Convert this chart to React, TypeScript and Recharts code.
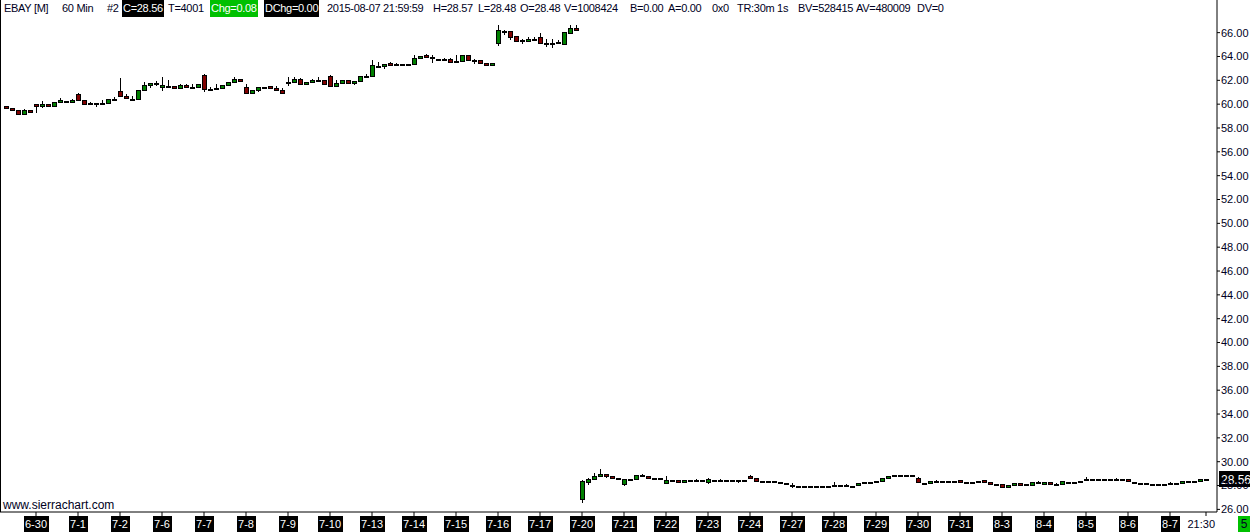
import { ComposedChart, Bar, XAxis, YAxis, ReferenceLine } from 'recharts';

// EBAY 60 min bars, sessions 15:30 .. 21:30 (7 bars). 6-29 only shows its last 5 bars.
const days = [
    '6-30', '7-1', '7-2', '7-6', '7-7', '7-8', '7-9', '7-10', '7-13', '7-14',
    '7-15', '7-16', '7-17', '7-20', '7-21', '7-22', '7-23', '7-24', '7-27', '7-28',
    '7-29', '7-30', '7-31', '8-3', '8-4', '8-5', '8-6', '8-7',
];
const partialFirstDay = 5;
const barsPerDay = 7;
const sessionEndLabel = '21:30';

type Ohlc = [number, number, number, number] | number; // a bare number = flat bar

// [open, high, low, close], 6-29 .. 7-17 (before the PayPal spin-off)
const beforeSpinOff: Ohlc[] = [
    [59.83, 59.83, 59.66, 59.66], [59.66, 59.66, 59.49, 59.49], [59.49, 59.49, 59.16, 59.16],
    [59.16, 59.57, 59.16, 59.49], [59.49, 59.49, 59.33, 59.33],
    // 6-30
    [60.0, 60.0, 59.37, 59.83], [59.83, 60.25, 59.74, 60.0], [60.0, 60.0, 59.83, 59.83],
    [59.83, 60.16, 59.83, 60.16], [60.16, 60.5, 60.16, 60.33], [60.27, 60.27, 60.16, 60.27],
    [60.16, 60.41, 60.16, 60.33],
    // 7-1
    [60.83, 60.92, 60.33, 60.33], [60.33, 60.33, 60.0, 60.0], [60.08, 60.2, 60.0, 60.08],
    [60.08, 60.08, 59.83, 60.08], [60.08, 60.33, 60.08, 60.08], [60.08, 60.41, 60.08, 60.41],
    [60.44, 60.58, 60.4, 60.44],
    // 7-2
    [61.08, 62.17, 60.66, 60.66], [60.66, 60.83, 60.5, 60.5], [60.47, 60.66, 60.44, 60.47],
    [60.41, 61.17, 60.41, 61.17], [61.17, 61.84, 61.17, 61.59], [61.59, 61.76, 61.42, 61.76],
    [61.76, 61.92, 61.59, 61.76],
    // 7-6
    [61.42, 62.26, 61.17, 61.59], [61.55, 62.0, 61.55, 61.55], [61.5, 61.5, 61.34, 61.34],
    [61.34, 61.67, 61.34, 61.59], [61.59, 61.67, 61.42, 61.42], [61.46, 61.67, 61.46, 61.46],
    [61.42, 61.67, 61.42, 61.67],
    // 7-7
    [62.43, 62.51, 61.08, 61.25], [61.3, 61.42, 61.3, 61.3], [61.34, 61.67, 61.34, 61.34],
    [61.34, 61.59, 61.34, 61.59], [61.59, 61.84, 61.59, 61.84], [61.84, 62.26, 61.84, 62.09],
    [62.09, 62.09, 61.92, 61.92],
    // 7-8
    [61.42, 61.67, 60.92, 60.92], [60.92, 61.17, 60.92, 61.17], [61.17, 61.42, 61.08, 61.42],
    [61.46, 61.46, 61.34, 61.46], [61.5, 61.5, 61.34, 61.34], [61.34, 61.5, 61.17, 61.17],
    [61.17, 61.34, 60.92, 60.92],
    // 7-9
    [61.84, 62.26, 61.59, 61.84], [61.84, 62.26, 61.84, 62.09], [62.09, 62.17, 61.67, 61.67],
    [61.67, 61.84, 61.67, 61.84], [61.84, 62.09, 61.84, 62.0], [62.0, 62.26, 62.0, 62.0],
    [62.0, 62.0, 61.67, 61.67],
    // 7-10
    [62.34, 62.43, 61.5, 61.5], [61.5, 62.0, 61.5, 61.76], [61.76, 62.0, 61.76, 62.0],
    [62.0, 62.0, 61.76, 61.76], [61.76, 61.92, 61.67, 61.92], [61.92, 62.34, 61.92, 62.34],
    [62.36, 62.51, 62.3, 62.36],
    // 7-13
    [62.34, 63.71, 62.34, 63.26], [63.23, 63.52, 63.1, 63.23], [63.21, 63.37, 63.0, 63.37],
    [63.43, 63.54, 63.26, 63.26], [63.35, 63.46, 63.35, 63.35], [63.33, 63.4, 63.33, 63.33],
    [63.37, 63.4, 63.37, 63.37],
    // 7-14
    [63.35, 64.13, 63.35, 63.85], [63.85, 64.05, 63.85, 64.05], [64.13, 64.21, 63.94, 63.94],
    [63.96, 64.13, 63.52, 63.96], 63.81, [63.79, 63.88, 63.79, 63.79],
    [63.77, 63.85, 63.52, 63.52],
    // 7-15
    [63.65, 64.1, 63.65, 63.65], [63.6, 64.13, 63.6, 64.13], [64.13, 64.13, 63.69, 63.69],
    [63.69, 63.79, 63.48, 63.69], [63.69, 63.69, 63.43, 63.43], [63.43, 63.43, 63.26, 63.26],
    [63.26, 63.43, 63.26, 63.43],
    // 7-16
    [65.16, 66.65, 64.97, 66.23], [66.15, 66.23, 65.89, 66.15], [66.14, 66.14, 65.45, 65.66],
    [65.72, 65.72, 65.33, 65.33], [65.35, 65.47, 65.16, 65.35], [65.28, 65.64, 65.28, 65.47],
    [65.5, 65.64, 65.5, 65.5],
    // 7-17
    [65.64, 65.97, 65.16, 65.16], [65.16, 65.47, 64.91, 65.16], [65.16, 65.47, 64.83, 65.16],
    [65.2, 65.39, 65.2, 65.2], [65.08, 66.06, 65.08, 66.06], [66.0, 66.65, 66.0, 66.39],
    [66.39, 66.65, 66.2, 66.2],
];

// 7-20 .. 8-7 (after the spin-off)
const afterSpinOff: Ohlc[] = [
    // 7-20
    [26.86, 28.48, 26.66, 28.39], [28.29, 28.64, 28.12, 28.56], [28.53, 29.06, 28.53, 28.81],
    [28.79, 29.4, 28.79, 28.98], [28.98, 28.98, 28.7, 28.79], [28.81, 28.81, 28.62, 28.62],
    28.6,
    // 7-21
    [28.12, 28.53, 28.03, 28.53], 28.56, [28.53, 28.89, 28.53, 28.89],
    [28.85, 28.98, 28.85, 28.85], [28.81, 28.81, 28.62, 28.62], 28.64, 28.64,
    // 7-22
    [28.22, 28.81, 28.22, 28.48], [28.48, 28.5, 28.48, 28.48], [28.48, 28.48, 28.29, 28.29],
    [28.29, 28.48, 28.29, 28.48], 28.45, [28.45, 28.53, 28.45, 28.45], 28.45,
    // 7-23
    [28.29, 28.62, 28.2, 28.56], 28.5, [28.48, 28.56, 28.48, 28.48], 28.45, 28.45,
    [28.45, 28.45, 28.29, 28.45], 28.45,
    // 7-24
    [28.84, 28.92, 28.62, 28.62], [28.62, 28.62, 28.37, 28.37], 28.42, 28.39, 28.37, 28.31, 28.25,
    // 7-27
    [28.03, 28.2, 27.86, 28.03], 27.92, 27.97, 27.97, 28.0, 28.0, 28.0,
    // 7-28
    [28.03, 28.29, 28.03, 28.03], 28.03, [28.06, 28.14, 28.06, 28.06], 28.0,
    [28.03, 28.22, 28.03, 28.22], 28.28, 28.33,
    // 7-29
    28.37, [28.42, 28.62, 28.42, 28.62], [28.62, 28.81, 28.62, 28.81], 28.87, 28.87, 28.87, 28.87,
    // 7-30
    [28.62, 28.7, 28.29, 28.29], 28.25, [28.22, 28.39, 28.22, 28.39],
    [28.37, 28.45, 28.37, 28.37], 28.42, 28.42, 28.39,
    // 7-31
    [28.45, 28.45, 28.29, 28.29], 28.29, 28.31, 28.42, [28.45, 28.45, 28.29, 28.29],
    [28.29, 28.29, 28.12, 28.12], 28.12,
    // 8-3
    [28.12, 28.12, 27.86, 27.86], [27.86, 28.06, 27.86, 28.06], [28.06, 28.22, 28.06, 28.22],
    [28.22, 28.22, 28.06, 28.06], 28.12, [28.06, 28.29, 28.06, 28.29],
    [28.29, 28.37, 28.29, 28.29],
    // 8-4
    [28.12, 28.29, 28.12, 28.29], [28.29, 28.29, 28.12, 28.12], [28.12, 28.2, 28.12, 28.12],
    [28.12, 28.37, 28.12, 28.37], 28.33, 28.33, 28.39,
    // 8-5
    [28.53, 28.7, 28.53, 28.53], 28.53, 28.53, 28.56, 28.56, [28.59, 28.67, 28.59, 28.59], 28.53,
    // 8-6
    [28.53, 28.53, 28.37, 28.37], 28.33, 28.2, 28.2, 28.17, 28.17, 28.17,
    // 8-7
    [28.2, 28.28, 28.2, 28.2], 28.2, [28.2, 28.37, 28.2, 28.37], 28.37, 28.37,
    [28.37, 28.53, 28.37, 28.53], [28.48, 28.57, 28.48, 28.56],
];

const yTicks = [26, 28, 30, 32, 34, 36, 38, 40, 42, 44, 46, 48, 50, 52, 54, 56, 58, 60, 62, 64, 66];
const lastPrice = 28.56;

const rows = [...beforeSpinOff, ...afterSpinOff].map((b, i) => {
    const [o, h, l, c] = typeof b === 'number' ? [b, b, b, b] : b;
    return { i, o, h, l, c };
});

const lastIdx = rows.length - 1;
const xTicks = [...days.map((_, k) => partialFirstDay + k * barsPerDay), lastIdx];

const GREEN = '#008000';
const RED = '#800000';
const FONT = "'Liberation Sans', Arial, sans-serif";

const Candle = (props: any) => {
    const { x, y, width, height, payload } = props;
    const { o, h, l, c } = payload;
    const cx = Math.round(x + width / 2);
    const py = (v: number) => (h === l ? y : y + ((h - v) / (h - l)) * height);
    const top = Math.round(py(Math.max(o, c)));
    const bot = Math.round(py(Math.min(o, c)));
    const fill = c > o ? GREEN : c < o ? RED : '#000';
    return (
        <g shapeRendering="crispEdges">
            <line x1={cx + 0.5} x2={cx + 0.5} y1={Math.round(y)} y2={Math.round(y + height) + 1} stroke="#000" />
            <rect x={cx - 1.5} y={top + 0.5} width={4} height={Math.max(bot - top, 1)} fill={fill} stroke="#000" />
        </g>
    );
};

// rough Arial 11px widths for the date boxes
const textWidth = (s: string) => s.split('').reduce((w, ch) => w + (ch === '-' ? 3.7 : 6.1), 0);

const DateTick = (props: any) => {
    const { x, y, payload } = props;
    const v = payload.value;
    if (v === lastIdx) {
        return (
            <text x={x + 9} y={y + 12} textAnchor="end" fontSize={11} fontFamily={FONT} fill="#000022">
                {sessionEndLabel}
            </text>
        );
    }
    const label = days[(v - partialFirstDay) / barsPerDay];
    const w = Math.round(textWidth(label) + 3);
    return (
        <g>
            <rect x={Math.round(x - w / 2)} y={y} width={w} height={16} fill="#000" />
            <text x={x} y={y + 12} textAnchor="middle" fontSize={11} fontFamily={FONT} fill="#fff">
                {label}
            </text>
        </g>
    );
};

const PriceTag = (props: any) => {
    const vb = props.viewBox || {};
    const left = vb.x + vb.width + 2;
    return (
        <g>
            <rect x={left} y={Math.round(vb.y) - 8} width={31} height={16} fill="#000" />
            <text x={left + 2} y={Math.round(vb.y) + 5} fontSize={12} fontFamily={FONT} fill="#fff">
                {lastPrice.toFixed(2)}
            </text>
        </g>
    );
};

const headerStyle = (left: number, bg?: string): React.CSSProperties => ({
    position: 'absolute',
    left,
    top: 0,
    height: 17,
    lineHeight: '17px',
    padding: bg ? '0 1px' : 0,
    background: bg,
    color: bg ? '#fff' : '#000022',
    letterSpacing: '-0.3px',
    whiteSpace: 'nowrap',
});

const App = () => {
    return (
        <div style={{ position: 'relative', width: 1253, height: 532, background: '#fff', fontFamily: FONT, fontSize: 11 }}>
            <style>{'body{margin:0}'}</style>
            <ComposedChart
                width={1253}
                height={532}
                data={rows}
                margin={{ top: 0, right: 0, bottom: 0, left: 0 }}
                barCategoryGap={1}
            >
                <XAxis
                    dataKey="i"
                    type="category"
                    ticks={xTicks}
                    interval={0}
                    padding={{ left: 3, right: 8 }}
                    height={20}
                    axisLine={{ stroke: '#000' }}
                    tickLine={{ stroke: '#000' }}
                    tickSize={4}
                    tickMargin={0}
                    tick={<DateTick />}
                />
                <YAxis
                    orientation="right"
                    type="number"
                    width={36}
                    domain={[25.78, 68.74]}
                    allowDataOverflow
                    ticks={yTicks}
                    interval={0}
                    axisLine={{ stroke: '#000' }}
                    tickLine={{ stroke: '#000' }}
                    tickSize={3}
                    tickMargin={1}
                    tick={{ fill: '#000022', fontSize: 11, fontFamily: FONT }}
                    tickFormatter={(v: number) => v.toFixed(2)}
                />
                <Bar dataKey={(d: any) => [d.l, d.h]} shape={<Candle />} isAnimationActive={false} />
                <ReferenceLine y={lastPrice} stroke="none" ifOverflow="visible" label={(p: any) => <PriceTag {...p} />} />
            </ComposedChart>

            <div style={{ position: 'absolute', left: 0, top: 0, width: 1, height: 512, background: '#000' }} />

            <span style={headerStyle(4)}>EBAY [M]</span>
            <span style={headerStyle(62)}>60 Min</span>
            <span style={headerStyle(107)}>#2</span>
            <span style={headerStyle(122, '#000')}>C=28.56</span>
            <span style={headerStyle(168)}>T=4001</span>
            <span style={headerStyle(210, '#00c000')}>Chg=0.08</span>
            <span style={headerStyle(264, '#000')}>DChg=0.00</span>
            <span style={headerStyle(327)}>2015-08-07 21:59:59</span>
            <span style={headerStyle(433)}>H=28.57</span>
            <span style={headerStyle(478)}>L=28.48</span>
            <span style={headerStyle(520)}>O=28.48</span>
            <span style={headerStyle(564)}>V=1008424</span>
            <span style={headerStyle(630)}>B=0.00</span>
            <span style={headerStyle(668)}>A=0.00</span>
            <span style={headerStyle(712)}>0x0</span>
            <span style={headerStyle(737)}>TR:30m 1s</span>
            <span style={headerStyle(798)}>BV=528415</span>
            <span style={headerStyle(856)}>AV=480009</span>
            <span style={headerStyle(917)}>DV=0</span>

            <span style={{ position: 'absolute', left: 3, top: 498, fontSize: 12, color: '#000022' }}>www.sierrachart.com</span>
            <span
                style={{
                    position: 'absolute',
                    left: 1238,
                    top: 516,
                    width: 12,
                    height: 16,
                    lineHeight: '16px',
                    textAlign: 'center',
                    background: '#00c000',
                    color: '#000022',
                    fontSize: 12,
                }}
            >
                5
            </span>
        </div>
    );
};

export default App;
